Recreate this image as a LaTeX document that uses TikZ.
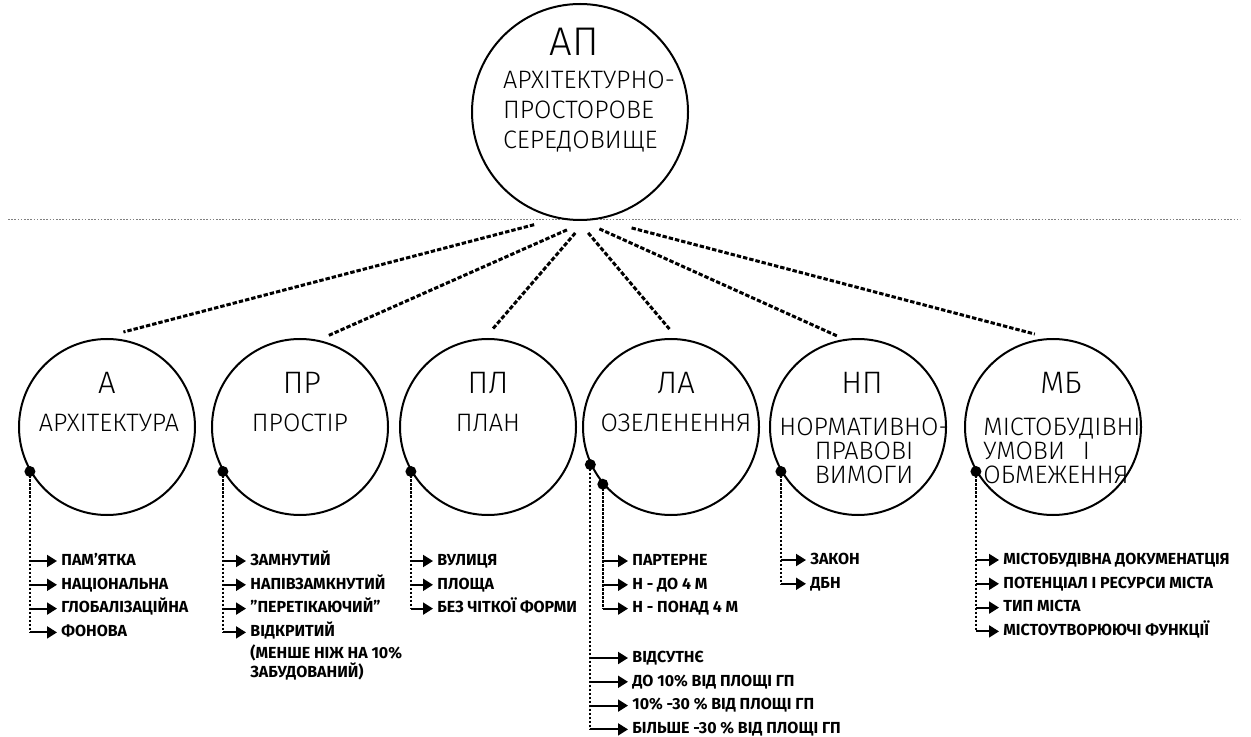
\documentclass[tikz,border=0pt]{standalone}
\usepackage{fontspec}
\setmainfont{Fira Sans}
\newfontfamily\thinfont{Fira Sans Light}
\usetikzlibrary{arrows.meta,positioning}

\begin{document}
\begin{tikzpicture}[x=0.5pt, y=-0.5pt,
    circ/.style={
        draw,
        circle,
        line width=1pt,
        minimum size=88pt,
        inner sep=0pt
    },
    bigcirc/.style={
        circ,
        minimum size=108pt
    },
    abbr/.style={anchor=base, inner sep=0pt, font=\thinfont\fontsize{15.5}{15.5}\selectfont},
    subtitle/.style={inner sep=0pt, font=\thinfont\fontsize{12.6}{12}\selectfont},
    entry/.style={
        anchor=west,
        inner xsep=2pt,
        inner ysep=1.85pt,
        text height=6pt,
        text depth=1.8pt,
        font=\fontsize{8}{8.25}\selectfont\bfseries
    },
    note/.style={
        anchor=north west,
        align=left,
        inner xsep=2pt,
        inner ysep=0pt,
        font=\fontsize{8}{8.25}\selectfont\bfseries
    },
    bullet/.style={circle, fill=black, inner sep=0pt, minimum size=5.5pt},
    spoke/.style={line width=1.5pt, dash pattern=on 2.2pt off 1pt},
    stemline/.style={line width=1.1pt, dash pattern=on 1.4pt off 0.6pt},
    pointer/.style={line width=1pt, -{Triangle[length=5pt,width=6pt]}}
]
\useasboundingbox (0,0) rectangle (1251,737);

% top level
\draw[gray, line width=0.5pt, dash pattern=on 0.8pt off 0.8pt] (8,220) -- (1240,220);
\node[bigcirc] (ap) at (580,112) {};
\node[abbr, font=\thinfont\fontsize{20}{20}\selectfont] (ap-t) at ([xshift=-3pt,yshift=28.25pt]ap.center) {АП};
\node[subtitle, align=left, font=\thinfont\fontsize{12.6}{15}\selectfont] (ap-s) at ([xshift=4.5pt]ap.center)
    {АРХІТЕКТУРНО-\\ПРОСТОРОВЕ\\СЕРЕДОВИЩЕ};

% components
\node[circ] (a) at (107,427) {};
\node[circ] (pr) at (300,427) {};
\node[circ] (pl) at (488,427) {};
\node[circ] (la) at (671,427) {};
\node[circ] (np) at (858,427) {};
\node[circ] (mb) at (1053,427) {};

\node[abbr] (a-t) at ([yshift=16.75pt]a.center) {А};
\node[abbr] (pr-t) at ([xshift=1pt,yshift=16.75pt]pr.center) {ПР};
\node[abbr] (pl-t) at ([yshift=16.75pt]pl.center) {ПЛ};
\node[abbr] (la-t) at ([xshift=2.5pt,yshift=16.75pt]la.center) {ЛА};
\node[abbr] (np-t) at ([xshift=2pt,yshift=16.75pt]np.center) {НП};
\node[abbr] (mb-t) at ([xshift=4pt,yshift=16.75pt]mb.center) {МБ};

\node[subtitle, anchor=base] (a-s) at ([xshift=1pt,yshift=-2pt]a.center) {АРХІТЕКТУРА};
\node[subtitle, anchor=base] (pr-s) at ([yshift=-2pt]pr.center) {ПРОСТІР};
\node[subtitle, anchor=base] (pl-s) at ([yshift=-2pt]pl.center) {ПЛАН};
\node[subtitle, anchor=base] (la-s) at ([xshift=2.5pt,yshift=-2pt]la.center) {ОЗЕЛЕНЕННЯ};
\node[subtitle, align=center] (np-s) at ([xshift=3pt,yshift=-12pt]np.center)
    {НОРМАТИВНО-\\ПРАВОВІ\\ВИМОГИ};
\node[subtitle, align=left] (mb-s) at ([xshift=4.5pt,yshift=-12pt]mb.center)
    {МІСТОБУДІВНІ\\УМОВИ\hspace{9pt}І\\ОБМЕЖЕННЯ};

% top to components
\draw[spoke, shorten <=12pt, shorten >=12.5pt] (ap.258) -- (a.95);
\draw[spoke, shorten <=11.3pt, shorten >=4.8pt] (ap.274) -- (pr.78);
\draw[spoke, shorten <=8pt, shorten >=6pt] (ap.273) -- (pl.92);
\draw[spoke, shorten <=7.8pt, shorten >=6pt] (ap.269) -- (la.86);
\draw[spoke, shorten <=9.6pt, shorten >=3.8pt] (ap.271) -- (np.99);
\draw[spoke, shorten <=16.9pt, shorten >=7.8pt] (ap.280) -- (mb.92);

% branch points
\node[bullet] (a-dot) at (a.210) {};
\node[bullet] (pr-dot) at (pr.210) {};
\node[bullet] (pl-dot) at (pl.210) {};
\node[bullet] (la-dot1) at (la.205) {};
\node[bullet] (la-dot2) at (la.220) {};
\node[bullet] (np-dot) at (np.210) {};
\node[bullet] (mb-dot) at (mb.210) {};

% lists
\node[entry] (a1) at (57,561) {ПАМ’ЯТКА};
\node[entry, below=0pt of a1.south west, anchor=north west] (a2) {НАЦІОНАЛЬНА};
\node[entry, below=0pt of a2.south west, anchor=north west] (a3) {ГЛОБАЛІЗАЦІЙНА};
\node[entry, below=0pt of a3.south west, anchor=north west] (a4) {ФОНОВА};

\node[entry] (pr1) at (246,561) {ЗАМНУТИЙ};
\node[entry, below=0pt of pr1.south west, anchor=north west] (pr2) {НАПІВЗАМКНУТИЙ};
\node[entry, below=0pt of pr2.south west, anchor=north west] (pr3) {"ПЕРЕТІКАЮЧИЙ"};
\node[entry, below=0pt of pr3.south west, anchor=north west] (pr4) {ВІДКРИТИЙ};
\node[note, below=0pt of pr4.south west, anchor=north west] (pr4b) {(МЕНШЕ НІЖ НА 10\%\\ЗАБУДОВАНИЙ)};

\node[entry] (pl1) at (433,561) {ВУЛИЦЯ};
\node[entry, below=0pt of pl1.south west, anchor=north west] (pl2) {ПЛОЩА};
\node[entry, below=0pt of pl2.south west, anchor=north west] (pl3) {БЕЗ ЧІТКОЇ ФОРМИ};

\node[entry] (la1) at (628,561) {ПАРТЕРНЕ};
\node[entry, below=0pt of la1.south west, anchor=north west] (la2) {Н - ДО 4 М};
\node[entry, below=0pt of la2.south west, anchor=north west] (la3) {Н - ПОНАД 4 М};
\node[entry] (la4) at (628,658) {ВІДСУТНЄ};
\node[entry, below=0pt of la4.south west, anchor=north west] (la5) {ДО 10\% ВІД ПЛОЩІ ГП};
\node[entry, below=0pt of la5.south west, anchor=north west] (la6) {10\% -30 \% ВІД ПЛОЩІ ГП};
\node[entry, below=0pt of la6.south west, anchor=north west] (la7) {БІЛЬШЕ -30 \% ВІД ПЛОЩІ ГП};

\node[entry] (np1) at (806,560) {ЗАКОН};
\node[entry, below=0pt of np1.south west, anchor=north west] (np2) {ДБН};

\node[entry] (mb1) at (999,560) {МІСТОБУДІВНА ДОКУМЕНАТЦІЯ};
\node[entry, below=0pt of mb1.south west, anchor=north west] (mb2) {ПОТЕНЦІАЛ І РЕСУРСИ МІСТА};
\node[entry, below=0pt of mb2.south west, anchor=north west] (mb3) {ТИП МІСТА};
\node[entry, below=0pt of mb3.south west, anchor=north west] (mb4) {МІСТОУТВОРЮЮЧІ ФУНКЦІЇ};

% stems
\draw[stemline] (a-dot.center) -- (a-dot.center |- a4.west);
\draw[stemline] (pr-dot.center) -- (pr-dot.center |- pr4.west);
\draw[stemline] (pl-dot.center) -- (pl-dot.center |- pl3.west);
\draw[stemline] (la-dot2.center) -- (la-dot2.center |- la3.west);
\draw[stemline] (la-dot1.center) -- (la-dot1.center |- la7.west);
\draw[stemline] (np-dot.center) -- (np-dot.center |- np2.west);
\draw[stemline] (mb-dot.center) -- (mb-dot.center |- mb4.west);

\draw[pointer] (a-dot.center |- a1.west) -- (a1.west);
\draw[pointer] (a-dot.center |- a2.west) -- (a2.west);
\draw[pointer] (a-dot.center |- a3.west) -- (a3.west);
\draw[pointer] (a-dot.center |- a4.west) -- (a4.west);

\draw[pointer] (pr-dot.center |- pr1.west) -- (pr1.west);
\draw[pointer] (pr-dot.center |- pr2.west) -- (pr2.west);
\draw[pointer] (pr-dot.center |- pr3.west) -- (pr3.west);
\draw[pointer] (pr-dot.center |- pr4.west) -- (pr4.west);

\draw[pointer] (pl-dot.center |- pl1.west) -- (pl1.west);
\draw[pointer] (pl-dot.center |- pl2.west) -- (pl2.west);
\draw[pointer] (pl-dot.center |- pl3.west) -- (pl3.west);

\draw[pointer] (la-dot2.center |- la1.west) -- (la1.west);
\draw[pointer] (la-dot2.center |- la2.west) -- (la2.west);
\draw[pointer] (la-dot2.center |- la3.west) -- (la3.west);
\draw[pointer] (la-dot1.center |- la4.west) -- (la4.west);
\draw[pointer] (la-dot1.center |- la5.west) -- (la5.west);
\draw[pointer] (la-dot1.center |- la6.west) -- (la6.west);
\draw[pointer] (la-dot1.center |- la7.west) -- (la7.west);

\draw[pointer] (np-dot.center |- np1.west) -- (np1.west);
\draw[pointer] (np-dot.center |- np2.west) -- (np2.west);

\draw[pointer] (mb-dot.center |- mb1.west) -- (mb1.west);
\draw[pointer] (mb-dot.center |- mb2.west) -- (mb2.west);
\draw[pointer] (mb-dot.center |- mb3.west) -- (mb3.west);
\draw[pointer] (mb-dot.center |- mb4.west) -- (mb4.west);
\end{tikzpicture}
\end{document}
